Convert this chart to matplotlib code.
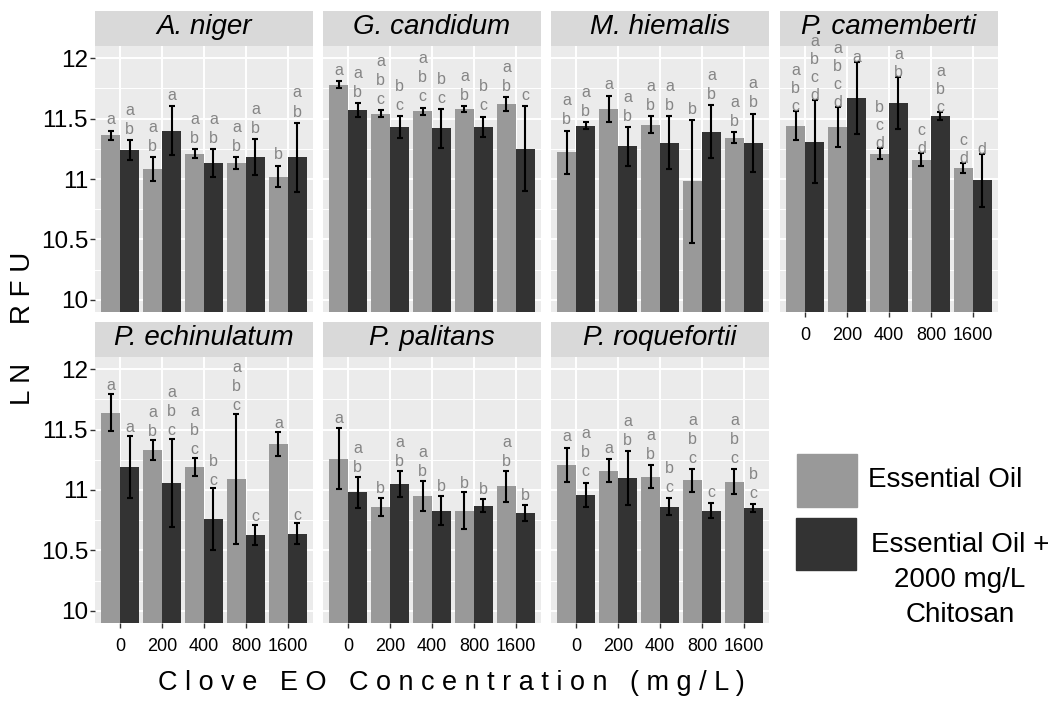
import numpy as np
import matplotlib
matplotlib.use('Agg')
import matplotlib.pyplot as plt
from matplotlib.patches import Rectangle

plt.rcParams['font.family'] = ['Liberation Sans', 'DejaVu Sans']

especies = ['A. niger', 'G. candidum', 'M. hiemalis', 'P. camemberti',
            'P. echinulatum', 'P. palitans', 'P. roquefortii']
concentracoes = ['0', '200', '400', '800', '1600']

# médias (ln RFU) e erros - óleo essencial sozinho
oe_media = [[11.36, 11.08, 11.21, 11.13, 11.02],
            [11.78, 11.54, 11.56, 11.58, 11.62],
            [11.22, 11.58, 11.45, 10.98, 11.34],
            [11.44, 11.43, 11.21, 11.16, 11.09],
            [11.64, 11.33, 11.19, 11.09, 11.38],
            [11.26, 10.86, 10.95, 10.83, 11.03],
            [11.21, 11.16, 11.11, 11.08, 11.07]]
oe_erro = [[0.04, 0.10, 0.035, 0.05, 0.09],
           [0.03, 0.03, 0.03, 0.025, 0.055],
           [0.18, 0.11, 0.07, 0.51, 0.045],
           [0.12, 0.167, 0.043, 0.054, 0.04],
           [0.155, 0.085, 0.077, 0.54, 0.10],
           [0.25, 0.075, 0.125, 0.15, 0.13],
           [0.14, 0.095, 0.095, 0.095, 0.10]]

# óleo essencial + 2000 mg/L de quitosana
oeq_media = [[11.24, 11.40, 11.13, 11.18, 11.18],
             [11.57, 11.43, 11.42, 11.43, 11.25],
             [11.44, 11.27, 11.30, 11.39, 11.30],
             [11.31, 11.67, 11.63, 11.52, 10.99],
             [11.19, 11.06, 10.76, 10.63, 10.64],
             [10.98, 11.05, 10.83, 10.87, 10.81],
             [10.96, 11.10, 10.86, 10.83, 10.85]]
oeq_erro = [[0.08, 0.20, 0.115, 0.15, 0.285],
            [0.058, 0.09, 0.16, 0.085, 0.35],
            [0.028, 0.16, 0.22, 0.22, 0.24],
            [0.34, 0.30, 0.215, 0.035, 0.22],
            [0.26, 0.365, 0.255, 0.083, 0.086],
            [0.13, 0.11, 0.12, 0.055, 0.065],
            [0.10, 0.22, 0.07, 0.06, 0.036]]

# letras do teste de comparação de médias
oe_letras = [['a', 'ab', 'ab', 'ab', 'b'],
             ['a', 'abc', 'abc', 'ab', 'ab'],
             ['ab', 'a', 'ab', 'b', 'ab'],
             ['abc', 'abcd', 'bcd', 'cd', 'cd'],
             ['a', 'ab', 'abc', 'abc', 'a'],
             ['a', 'b', 'ab', 'b', 'ab'],
             ['a', 'a', 'ab', 'abc', 'abc']]
oeq_letras = [['ab', 'a', 'ab', 'ab', 'ab'],
              ['ab', 'bc', 'bc', 'bc', 'c'],
              ['ab', 'ab', 'ab', 'ab', 'ab'],
              ['abcd', 'a', 'ab', 'abc', 'd'],
              ['a', 'abc', 'bc', 'c', 'c'],
              ['ab', 'ab', 'b', 'b', 'b'],
              ['abc', 'ab', 'bc', 'c', 'bc']]

cor_oe = '#999999'
cor_oeq = '#333333'
cor_letra = '#858585'

W, H = 1052, 723
fig = plt.figure(figsize=(W / 100, H / 100), dpi=100)

# posição dos painéis em pixels (esquerda, topo da faixa)
lefts = [95, 323, 551, 780]
larg = 218
faixa = 35
alt = 266
topos = [11, 322]
# distância (pt) entre a barra de erro e a primeira letra, por painel
folga = [4.5, 4.5, 4.5, 0.0, 2.5, 3.5, 4.5]
passo = [13.7, 13.7, 13.7, 13.0, 13.7, 13.7, 13.7]

x = np.arange(1, 6)
w = 0.45


def letras(ax, xs, topo, texto, dy, step):
    for i, ch in enumerate(reversed(texto)):
        ax.annotate(ch, (xs, topo), xytext=(0, dy + i * step),
                    textcoords='offset points', ha='center', va='baseline',
                    fontsize=11.5, color=cor_letra, annotation_clip=False,
                    zorder=5)


for k, nome in enumerate(especies):
    lin, col = divmod(k, 4)
    l = lefts[col]
    t = topos[lin]

    # faixa com o nome da espécie
    axs = fig.add_axes([l / W, 1 - (t + faixa) / H, larg / W, faixa / H])
    axs.set_facecolor('#d9d9d9')
    axs.set_xticks([])
    axs.set_yticks([])
    for s in axs.spines.values():
        s.set_visible(False)
    axs.text(0.5, 0.53, nome, style='italic', fontsize=20,
             ha='center', va='center', transform=axs.transAxes)

    ax = fig.add_axes([l / W, 1 - (t + faixa + alt) / H, larg / W, alt / H])
    ax.set_facecolor('#ebebeb')
    for s in ax.spines.values():
        s.set_visible(False)
    ax.set_xlim(0.4, 5.6)
    ax.set_ylim(9.9, 12.1)
    ax.set_yticks([10, 10.5, 11, 11.5, 12])
    ax.set_yticks([10.25, 10.75, 11.25, 11.75], minor=True)
    ax.set_xticks(x)
    ax.grid(True, which='major', color='white', lw=1.4)
    ax.grid(True, which='minor', axis='y', color='white', lw=0.7)
    ax.set_axisbelow(True)

    ax.bar(x - w / 2, oe_media[k], w, color=cor_oe, zorder=2)
    ax.bar(x + w / 2, oeq_media[k], w, color=cor_oeq, zorder=2)
    ax.errorbar(x - w / 2, oe_media[k], yerr=oe_erro[k], fmt='none',
                ecolor='black', elinewidth=1.5, capsize=2, capthick=1.5, zorder=3)
    ax.errorbar(x + w / 2, oeq_media[k], yerr=oeq_erro[k], fmt='none',
                ecolor='black', elinewidth=1.5, capsize=2, capthick=1.5, zorder=3)

    for j in range(5):
        letras(ax, x[j] - w / 2, oe_media[k][j] + oe_erro[k][j], oe_letras[k][j],
               folga[k], passo[k])
        letras(ax, x[j] + w / 2, oeq_media[k][j] + oeq_erro[k][j], oeq_letras[k][j],
               folga[k], passo[k])

    ax.tick_params(which='minor', length=0)
    ax.tick_params(axis='both', colors='#333333', length=3.5, width=1)
    if col == 0:
        ax.set_yticklabels(['10', '10.5', '11', '11.5', '12'])
        ax.tick_params(axis='y', labelsize=17.5, labelcolor='black', pad=1.5)
    else:
        ax.tick_params(axis='y', left=False, labelleft=False)
    if lin == 1 or col == 3:
        ax.set_xticklabels(concentracoes)
        ax.tick_params(axis='x', labelsize=13, labelcolor='black', pad=7.5)
    else:
        ax.tick_params(axis='x', bottom=False, labelbottom=False)

# títulos dos eixos
fig.text(23 / W, 1 - 328 / H, 'L N     R F U', rotation=90, fontsize=20,
         ha='center', va='center')
fig.text(451 / W, 1 - 683 / H,
         'C l o v e   E O   C o n c e n t r a t i o n   ( m g / L )',
         fontsize=19.5, ha='center', va='center')

# legenda
fig.patches.append(Rectangle((797 / W, 1 - 507 / H), 60 / W, 53 / H,
                             transform=fig.transFigure, color=cor_oe))
fig.patches.append(Rectangle((796 / W, 1 - 570 / H), 60 / W, 52 / H,
                             transform=fig.transFigure, color=cor_oeq))
fig.text(868 / W, 1 - 480 / H, 'Essential Oil', fontsize=20, ha='left', va='center')
fig.text(960 / W, 1 - 580 / H, 'Essential Oil +\n2000 mg/L\nChitosan', fontsize=20,
         ha='center', va='center', multialignment='center', linespacing=1.45)

fig.savefig('out.png', dpi=100)
